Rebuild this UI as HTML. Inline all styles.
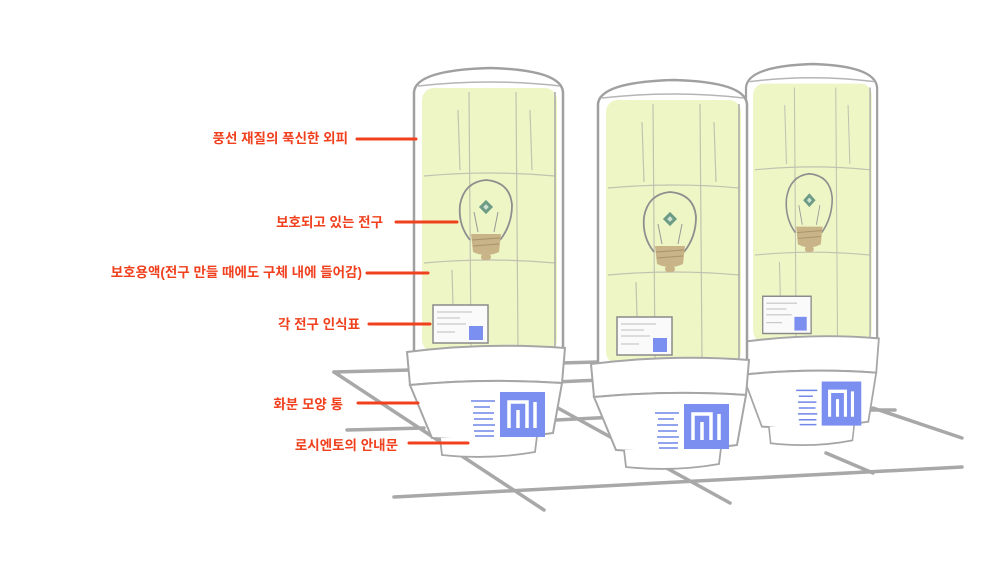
<!DOCTYPE html>
<html><head><meta charset="utf-8">
<style>
html,body{margin:0;padding:0;background:#fff;}
svg{display:block;}
.lbl{font-family:"Liberation Sans","Noto Sans CJK KR","NanumGothic",sans-serif;font-size:13.5px;font-weight:bold;fill:#f0401e;}
</style></head>
<body>
<svg width="1000" height="563" viewBox="0 0 1000 563" xmlns="http://www.w3.org/2000/svg">
<defs>
<g id="unit">
  <path d="M414,352 L414,92 Q416,70 490,68 Q561,70 563,92 L563,352" fill="#fff" stroke="#a0a0a0" stroke-width="2.5"/>
  <path d="M418,86 Q490,78 560,86" fill="none" stroke="#b5b5b5" stroke-width="1.5"/>
  <rect x="422" y="88" width="135" height="264" rx="12" fill="#eef6c6"/>
  <g stroke="#c2c2b0" stroke-width="1.2" fill="none">
    <path d="M424,176 Q490,170 555,176"/>
    <path d="M424,263 Q490,257 555,263"/>
    <path d="M469,92 L471,350"/>
    <path d="M516,92 L518,350"/>
    <path d="M458,110 L460,170"/>
    <path d="M530,110 L532,170"/>
    <path d="M452,270 L454,340"/>
  </g>
  <line x1="555" y1="92" x2="555" y2="350" stroke="#a8a8a8" stroke-width="1.5"/>
  <path d="M470,240 Q458,225 460,205 Q464,182 486,180 Q510,182 512,205 Q512,225 500,240" fill="none" stroke="#8e8e8e" stroke-width="1.8"/>
  <path d="M478,232 L474,212 M494,232 L498,212" stroke="#999" stroke-width="1"/>
  <rect x="481" y="202" width="10" height="10" transform="rotate(45 486 207)" fill="#6d9c86"/>
  <rect x="484" y="205" width="4" height="4" transform="rotate(45 486 207)" fill="#cfe2d0"/>
  <path d="M471,234 L501,234 L499,252 Q486,258 473,252 Z" fill="#c9b488"/>
  <path d="M472,240 L500,238 M473,246 L499,244" stroke="#a8936a" stroke-width="1"/>
  <rect x="481" y="254" width="10" height="6" rx="3" fill="#c9b488"/>
  <rect x="433" y="305" width="55" height="38" fill="#fafafa" stroke="#8a8a8a" stroke-width="1.5"/>
  <g stroke="#aaa" stroke-width="0.8">
    <line x1="437" y1="312" x2="472" y2="312"/><line x1="437" y1="318" x2="460" y2="318"/>
    <line x1="437" y1="324" x2="466" y2="324"/><line x1="437" y1="332" x2="455" y2="332"/>
  </g>
  <rect x="469" y="326" width="14" height="14" fill="#7b8ff0"/>
  <path d="M407,352 Q486,342 565,348 L562,383 Q486,378 410,385 Z" fill="#fff" stroke="#a6a6a6" stroke-width="2"/>
  <path d="M410,385 Q486,378 562,383 L553,433 Q490,442 432,438 Z" fill="#fff" stroke="#a6a6a6" stroke-width="2"/>
  <path d="M440,438 L442,455 Q490,460 535,452 L537,436" fill="#fff" stroke="#a6a6a6" stroke-width="1.8"/>
  <rect x="500" y="392" width="45" height="45" fill="#7b8ff0"/>
  <path d="M509,428 L509,402 L527,402 L527,428 M518,410 L518,428 M535,402 L535,428" fill="none" stroke="#fff" stroke-width="3.5"/>
  <g stroke="#6f85e8" stroke-width="1.5">
    <line x1="471" y1="401" x2="495" y2="401"/><line x1="474" y1="407" x2="490" y2="407"/>
    <line x1="473" y1="413" x2="494" y2="413"/><line x1="474" y1="419" x2="493" y2="419"/>
    <line x1="473" y1="425" x2="495" y2="425"/><line x1="474" y1="431" x2="494" y2="431"/>
    <line x1="475" y1="436" x2="494" y2="436"/>
  </g>
</g>
</defs>
<g stroke="#a8a8a8" stroke-width="3.5" stroke-linecap="round" fill="none">
  <line x1="334" y1="372" x2="411" y2="370"/>
  <line x1="334" y1="372" x2="544" y2="510"/>
  <line x1="347" y1="430" x2="424" y2="428"/>
  <line x1="394" y1="497" x2="962" y2="467"/>
  <line x1="873" y1="408" x2="962" y2="438"/>
  <line x1="556" y1="407" x2="730" y2="503"/>
  <line x1="826" y1="453" x2="873" y2="473"/>
  <line x1="556" y1="420" x2="616" y2="417"/>
  <line x1="560" y1="363" x2="598" y2="362"/>
  <line x1="555" y1="382" x2="600" y2="380"/>
  <line x1="870" y1="410" x2="895" y2="410"/>
</g>
<use href="#unit" transform="translate(746,64) scale(0.88 0.98) translate(-414,-68)"/>
<use href="#unit"/>
<use href="#unit" transform="translate(184,12)"/>
<g class="lbl" text-anchor="end">
  <text x="348" y="143">풍선 재질의 푹신한 외피</text>
  <text x="383" y="227">보호되고 있는 전구</text>
  <text x="362" y="277">보호용액(전구 만들 때에도 구체 내에 들어감)</text>
  <text x="360" y="329">각 전구 인식표</text>
  <text x="343" y="409">화분 모양 통</text>
  <text x="398" y="450">로시엔토의 안내문</text>
</g>
<g stroke="#f0401e" stroke-width="3" stroke-linecap="round">
  <line x1="357" y1="139" x2="416" y2="139"/>
  <line x1="396" y1="222" x2="457" y2="222"/>
  <line x1="367" y1="273" x2="428" y2="273"/>
  <line x1="369" y1="324" x2="430" y2="324"/>
  <line x1="358" y1="403" x2="418" y2="403"/>
  <line x1="409" y1="443" x2="468" y2="443"/>
</g>
</svg>
</body></html>
